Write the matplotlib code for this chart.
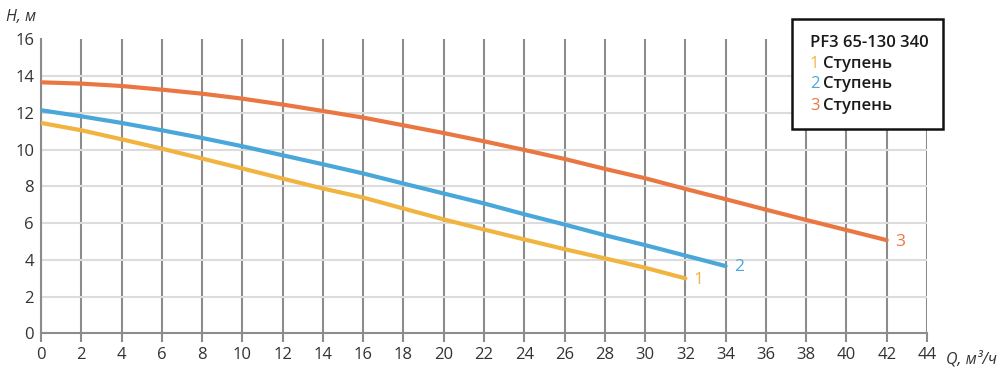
import matplotlib.pyplot as plt
from matplotlib.patches import Rectangle

plt.rcParams['font.family'] = ['Open Sans', 'DejaVu Sans']

# flow Q, m3/h and head H, m for each stage
q1 = [0, 2, 4, 6, 8, 10, 12, 14, 16, 18, 20, 22, 24, 26, 28, 30, 32]
h1 = [11.45, 11.05, 10.56, 10.05, 9.51, 8.97, 8.42, 7.88, 7.39, 6.79, 6.2,
      5.65, 5.11, 4.58, 4.08, 3.57, 2.99]
q2 = [0, 2, 4, 6, 8, 10, 12, 14, 16, 18, 20, 22, 24, 26, 28, 30, 32, 34]
h2 = [12.14, 11.81, 11.45, 11.05, 10.63, 10.18, 9.69, 9.2, 8.7, 8.15, 7.61,
      7.07, 6.48, 5.92, 5.34, 4.8, 4.23, 3.66]
q3 = [0, 2, 4, 6, 8, 10, 12, 14, 16, 18, 20, 22, 24, 26, 28, 30, 32, 34,
      36, 38, 40, 42]
h3 = [13.66, 13.59, 13.46, 13.26, 13.04, 12.77, 12.45, 12.1, 11.74, 11.32,
      10.9, 10.45, 9.98, 9.49, 8.95, 8.44, 7.86, 7.3, 6.73, 6.17, 5.62, 5.07]

labels = ['1', '2', '3']
colors = ['#F2B440', '#4AA7DA', '#EA7742']
title = 'PF3 65-130 340'
stage_word = 'Ступень'
xticks = list(range(0, 46, 2))
yticks = list(range(0, 18, 2))

fig = plt.figure(figsize=(10, 3.73), dpi=100)
ax = fig.add_axes([0.041, 0.1064, 0.886, 0.7882])

for q, h, lab, c in zip([q1, q2, q3], [h1, h2, h3], labels, colors):
    ax.plot(q, h, color=c, lw=3, solid_capstyle='round', zorder=3)
    ax.annotate(lab, (q[-1], h[-1]), xytext=(6, -1), textcoords='offset points',
                color=c, fontsize=12.5, va='center', ha='left')

ax.set_xlim(0, 44)
ax.set_ylim(0, 16)
ax.set_xticks(xticks)
ax.set_yticks(yticks)
ax.tick_params(axis='x', length=6.5, width=1.5, color='#8c8c8c', pad=3,
               labelsize=12, labelcolor='#333333')
ax.tick_params(axis='y', length=0, pad=5, labelsize=12, labelcolor='#333333')
ax.grid(axis='x', color='#8c8c8c', lw=1.5, zorder=1)
ax.grid(axis='y', color='#dcdcdc', lw=1.5, zorder=1)
ax.set_axisbelow(True)
ax.yaxis.get_major_ticks()[-1].gridline.set_visible(False)
for s in ['top', 'right']:
    ax.spines[s].set_visible(False)
for s in ['left', 'bottom']:
    ax.spines[s].set_color('#8c8c8c')
    ax.spines[s].set_linewidth(1.5)

fig.text(0.006, 0.955, 'H, м', style='italic', fontsize=11.5, color='#333333',
         va='center', ha='left')
fig.text(0.946, 0.037, 'Q, м³/ч', style='italic', fontsize=11.5, color='#333333',
         va='center', ha='left')

# legend box
fig.add_artist(Rectangle((0.7917, 1 - 129.3 / 373), 0.1516, 110 / 373,
                         transform=fig.transFigure, facecolor='white',
                         edgecolor='#111111', lw=1.8, zorder=5))
fig.text(0.810, 1 - 43 / 373, title, fontsize=12, weight='semibold',
         color='#1a1a1a', va='center', ha='left', zorder=6)
for i, (lab, c) in enumerate(zip(labels, colors)):
    y = 1 - (63.5 + 21 * i) / 373
    fig.text(0.810, y, lab, fontsize=12, color=c, va='center', ha='left',
             zorder=6)
    fig.text(0.8225, y, stage_word, fontsize=12, weight='semibold',
             color='#1a1a1a', va='center', ha='left', zorder=6)

fig.savefig('out.png', dpi=100)
